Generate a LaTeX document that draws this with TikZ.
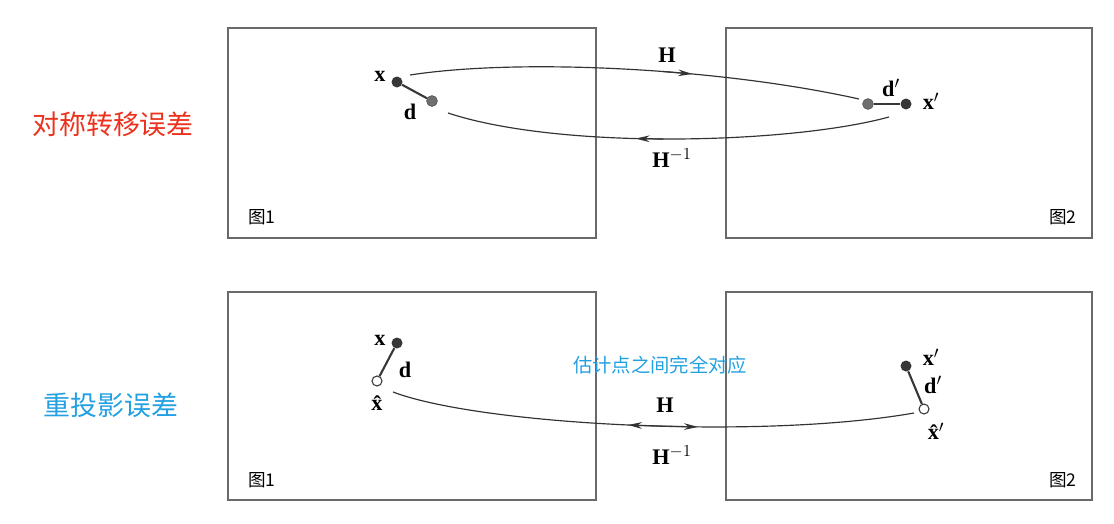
\documentclass[tikz,border=0pt]{standalone}
\usepackage{fontspec}
\setmainfont{Liberation Serif}
\newfontfamily\cjk{Noto Sans CJK SC}
\usetikzlibrary{arrows.meta}
\definecolor{framegray}{RGB}{105,105,105}
\definecolor{dotdark}{RGB}{55,55,55}
\definecolor{dotgray}{RGB}{110,110,110}
\definecolor{titlered}{RGB}{236,50,30}
\definecolor{titleblue}{RGB}{35,160,225}
\tikzset{>=Stealth,
  frame/.style={draw=framegray,line width=1.3pt},
  ptdark/.style={circle,fill=dotdark,inner sep=0pt,minimum size=0.33cm},
  ptgray/.style={circle,fill=dotgray,draw=dotdark,line width=0.3pt,inner sep=0pt,minimum size=0.33cm},
  ptopen/.style={circle,fill=white,draw=dotdark,line width=0.9pt,inner sep=0pt,minimum size=0.3cm},
  seg/.style={line width=1.8pt,draw=dotdark},
  curve/.style={line width=1pt,draw=black!80},
  tipline/.style={line width=1pt,draw=black!80,-{Stealth[length=0.42cm,width=0.2cm]}},
  lbl/.style={font=\fontsize{19}{21}\selectfont\bfseries,inner sep=0pt},
  figlbl/.style={font=\fontsize{15}{17}\selectfont\cjk,inner sep=0pt},
  title/.style={font=\fontsize{23}{26}\selectfont\cjk,inner sep=0pt}
}

\begin{document}
\begin{tikzpicture}[x=0.03cm,y=-0.03cm]
\useasboundingbox (0,0) rectangle (1114,523);

% frames
\draw[frame] (228,28) rectangle (596,238);
\draw[frame] (726,28) rectangle (1092,238);
\draw[frame] (228,292) rectangle (596,500);
\draw[frame] (726,292) rectangle (1092,500);
\node[figlbl] (f1a) at (262,217) {图1};
\node[figlbl] (f2a) at (1063,217) {图2};
\node[figlbl] (f1b) at (262,480) {图1};
\node[figlbl] (f2b) at (1063,480) {图2};

% titles
\node[title,text=titlered] (t1) at (113,124) {对称转移误差};
\node[title,text=titleblue] (t2) at (111,405) {重投影误差};
\node[font=\fontsize{16.5}{18}\selectfont\cjk,text=titleblue,inner sep=0pt] (note) at (660,365) {估计点之间完全对应};

% symmetric transfer error
\node[ptdark] (x1) at (397,82) {};
\node[ptgray] (d1) at (432,101) {};
\node[ptgray] (d2) at (868,104) {};
\node[ptdark] (x2) at (906,104) {};
\draw[seg] (x1) -- (d1);
\draw[seg] (d2) -- (x2);
\node[lbl] at (380,76) {x};
\node[lbl] at (410,112) {d};
\node[lbl] at (891,88) {d$'$};
\node[lbl] at (931,101) {x$'$};

\coordinate (ha) at (410,75);
\coordinate (hb) at (859,99);
\coordinate (ga) at (889,117);
\coordinate (gb) at (448,113);
\draw[curve] (ha) .. controls (520,58) and (720,68) .. (hb)
  coordinate[pos=0.58] (h1) coordinate[pos=0.64] (h2);
\draw[curve] (ga) .. controls (790,144) and (560,150) .. (gb)
  coordinate[pos=0.52] (g1) coordinate[pos=0.575] (g2);
\draw[tipline] (h1) -- (h2);
\draw[tipline] (g1) -- (g2);
\node[lbl] at (667,55) {H};
\node[lbl] at (672,158) {H$^{-1}$};

% reprojection error
\node[ptdark] (x3) at (397,343) {};
\node[ptopen] (xh3) at (377,381) {};
\node[ptdark] (x4) at (906,366) {};
\node[ptopen] (xh4) at (924,409) {};
\draw[seg] (x3) -- (xh3);
\draw[seg] (x4) -- (xh4);
\node[lbl] at (380,340) {x};
\node[lbl] at (405,370) {d};
\node[lbl] at (377,403) {\^{x}};
\node[lbl] at (931,357) {x$'$};
\node[lbl] at (933,385) {d$'$};
\node[lbl] at (936,431) {\^{x}$'$};

\coordinate (ka) at (393,392);
\coordinate (kb) at (914,413);
\coordinate (k1) at (628,425);
\coordinate (k2) at (662,426.1);
\coordinate (k3) at (698,426.9);
\draw[curve] (ka) .. controls (480,425) and (760,440) .. (kb);
\draw[tipline] (k2) -- (k1);
\draw[tipline] (k2) -- (k3);
\node[lbl] at (665,405) {H};
\node[lbl] at (672,455) {H$^{-1}$};
\end{tikzpicture}
\end{document}
